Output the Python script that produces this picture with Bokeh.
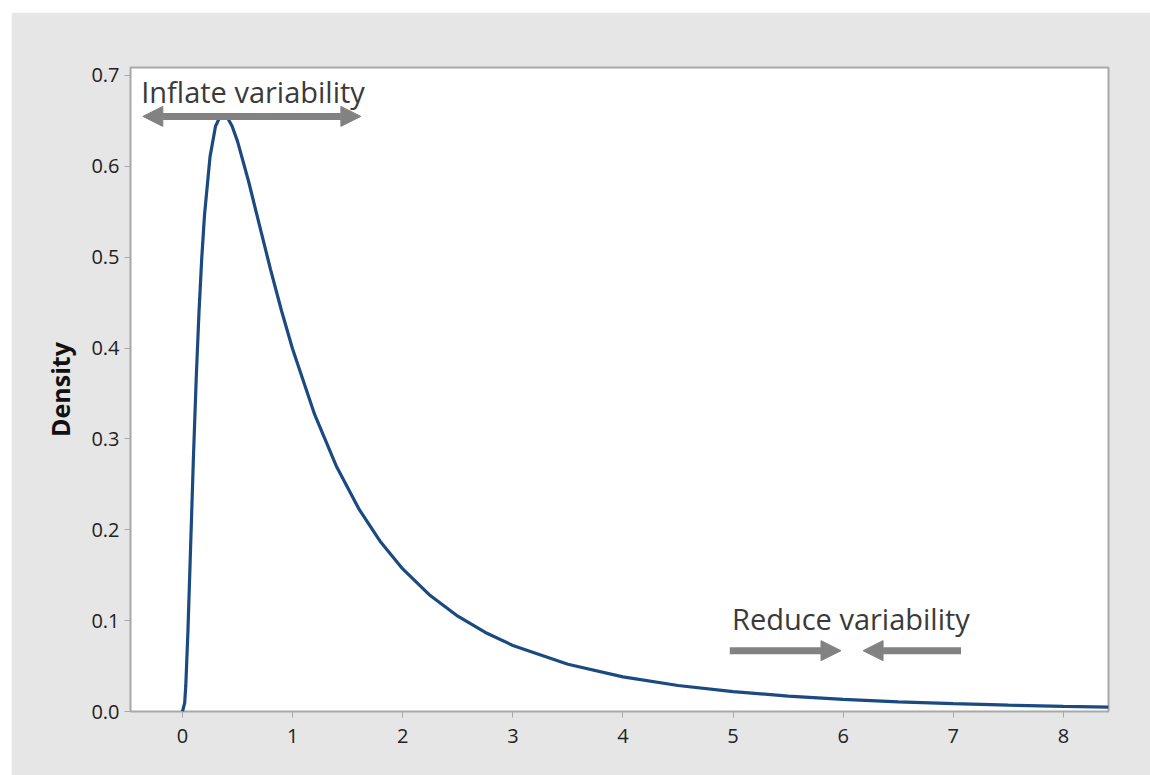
from bokeh.plotting import figure
from bokeh.models import Range1d, FixedTicker, Label, Arrow, NormalHead, CustomJSTickFormatter
from bokeh.embed import file_html
from bokeh.resources import INLINE

# Density curve
density_x = [0.0, 0.02, 0.03, 0.05, 0.075, 0.1, 0.125, 0.15, 0.175, 0.2, 0.25, 0.3,
             0.35, 0.4, 0.45, 0.5, 0.6, 0.7, 0.8, 0.9, 1.0, 1.2, 1.4, 1.6, 1.8,
             2.0, 2.25, 2.5, 2.75, 3.0, 3.5, 4.0, 4.5, 5.0, 5.5, 6.0, 6.5, 7.0,
             7.5, 8.0, 8.41]
density_y = [0.0, 0.0095, 0.0284, 0.0898, 0.1857, 0.2815, 0.3673, 0.4399, 0.4990,
             0.5463, 0.6104, 0.6442, 0.6570, 0.6555, 0.6445, 0.6275, 0.5836,
             0.5348, 0.4864, 0.4408, 0.3989, 0.3270, 0.2693, 0.2233, 0.1865,
             0.1569, 0.1276, 0.1049, 0.0870, 0.0727, 0.0520, 0.0381, 0.0286,
             0.0219, 0.0170, 0.0134, 0.0107, 0.0086, 0.0070, 0.0057, 0.0049]

x_ticks = [0, 1, 2, 3, 4, 5, 6, 7, 8]
y_ticks = [0.0, 0.1, 0.2, 0.3, 0.4, 0.5, 0.6, 0.7]

annotation_texts = ["Inflate variability", "Reduce variability"]

FONT = "Open Sans"
GRAY_BG = "#e6e6e6"

p = figure(width=1139, height=763, output_backend="svg", toolbar_location=None,
           x_range=Range1d(-0.472, 8.409), y_range=Range1d(0, 0.7088),
           min_border_left=119, min_border_right=42, min_border_top=55,
           min_border_bottom=64)
p.margin = (12, 0, 0, 11)
p.border_fill_color = GRAY_BG
p.background_fill_color = "white"
p.outline_line_color = "#a8a8a8"
p.outline_line_width = 2
p.grid.visible = False

p.xaxis.ticker = FixedTicker(ticks=x_ticks)
p.yaxis.ticker = FixedTicker(ticks=y_ticks)
p.yaxis.formatter = CustomJSTickFormatter(code="return tick.toFixed(1);")

for ax in (p.xaxis[0], p.yaxis[0]):
    ax.axis_line_color = None
    ax.major_tick_line_color = "#a8a8a8"
    ax.major_tick_line_width = 1
    ax.major_tick_out = 6
    ax.major_tick_in = 0
    ax.minor_tick_line_color = None
    ax.major_label_text_font = FONT
    ax.major_label_text_font_size = "20px"
    ax.major_label_text_color = "#222222"
p.yaxis.major_label_standoff = 5
p.xaxis.major_label_standoff = 11

p.yaxis.axis_label = "Density"
p.yaxis.axis_label_text_font = FONT
p.yaxis.axis_label_text_font_size = "25px"
p.yaxis.axis_label_text_font_style = "bold"
p.yaxis.axis_label_text_color = "#111111"
p.yaxis.axis_label_standoff = 11

p.line(density_x, density_y, line_color="#1b4a80", line_width=3.2)

ARROW_COLOR = "#828282"

def head():
    return NormalHead(size=20, fill_color=ARROW_COLOR, line_color=ARROW_COLOR, line_width=1)

p.add_layout(Arrow(start=head(), end=head(), x_start=-0.36, y_start=0.655,
                   x_end=1.62, y_end=0.655, line_color=ARROW_COLOR, line_width=7))
p.add_layout(Arrow(end=head(), x_start=4.97, y_start=0.067, x_end=5.98, y_end=0.067,
                   line_color=ARROW_COLOR, line_width=7))
p.add_layout(Arrow(end=head(), x_start=7.07, y_start=0.067, x_end=6.18, y_end=0.067,
                   line_color=ARROW_COLOR, line_width=7))

p.add_layout(Label(x=-0.375, y=0.682, text=annotation_texts[0], text_font=FONT,
                   text_font_size="29px", text_color="#3a3a3a",
                   text_baseline="alphabetic"))
p.add_layout(Label(x=4.99, y=0.102, text=annotation_texts[1], text_font=FONT,
                   text_font_size="29px", text_color="#3a3a3a",
                   text_baseline="alphabetic"))

open("out.html", "w").write(file_html(p, INLINE))
